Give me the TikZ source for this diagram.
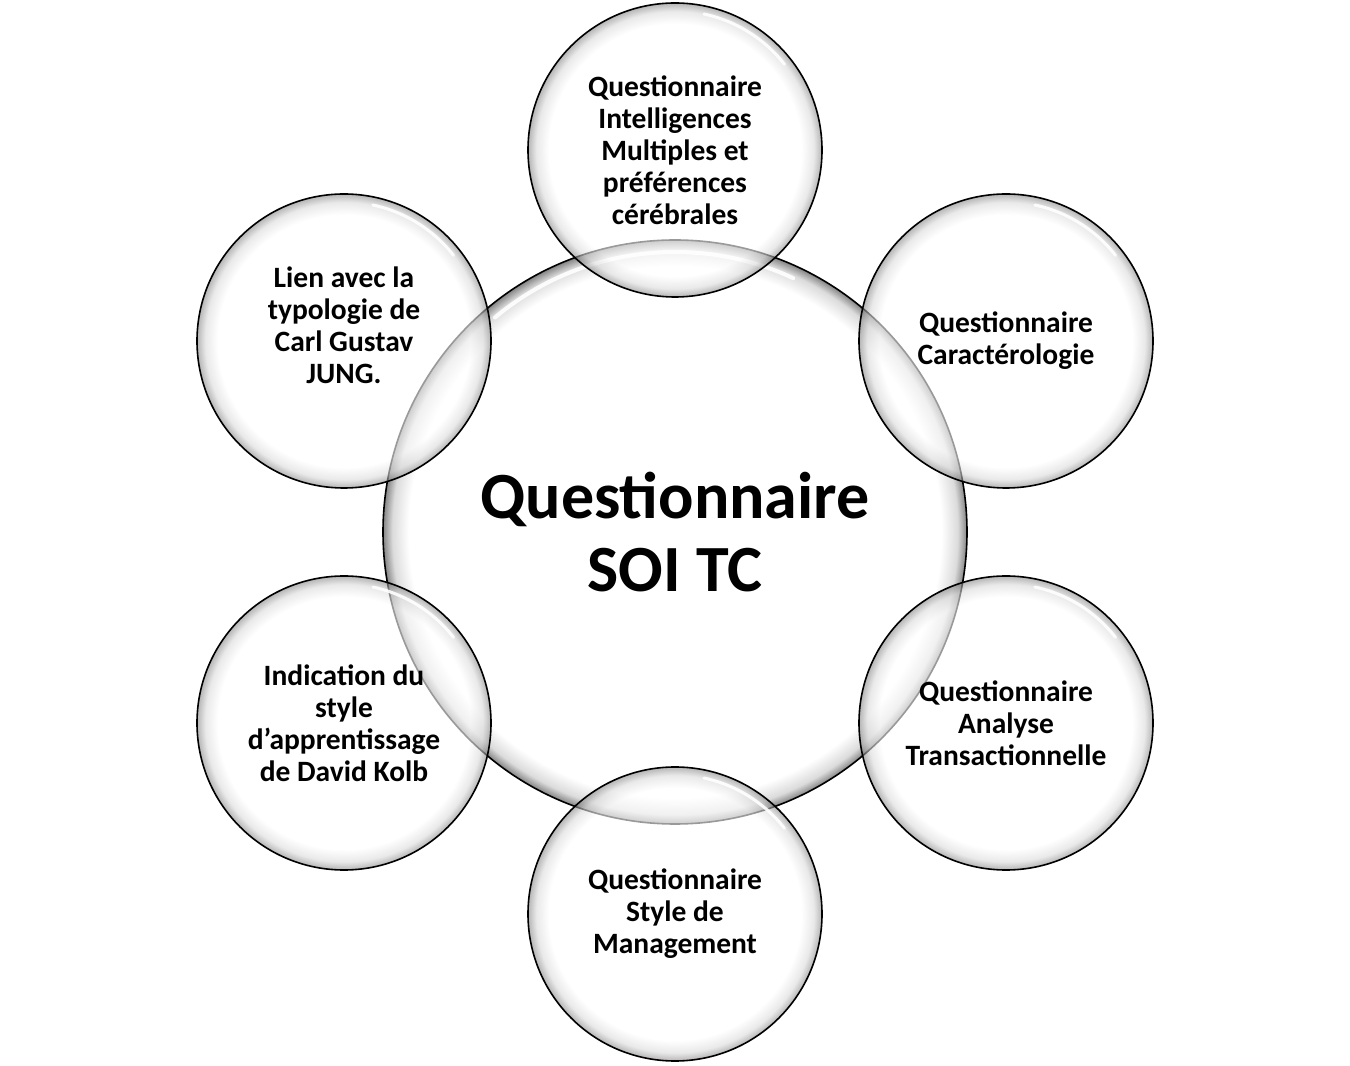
\documentclass[tikz,border=0pt]{standalone}
\usepackage{fontspec}
\setmainfont{Carlito}
\pgfdeclareradialshading{bubble}{\pgfpoint{0bp}{0bp}}{color(0bp)=(white); color(21.5bp)=(white); color(23.6bp)=(black!14); color(25bp)=(black!48); color(50bp)=(black!48)}
\pgfdeclareradialshading{bigbubble}{\pgfpoint{0bp}{0bp}}{color(0bp)=(white); color(22.8bp)=(white); color(24.2bp)=(black!14); color(25bp)=(black!48); color(50bp)=(black!48)}
\tikzset{
  bubble/.style={circle, draw=black, line width=1.6pt, shade, inner sep=0pt},
  sat/.style={bubble, shading=bubble, minimum size=294pt, fill opacity=0.6, draw opacity=1},
  big/.style={bubble, shading=bigbubble, minimum size=584pt},
  lbl/.style={align=center, font=\bfseries\fontsize{29.5}{32}\selectfont, text=black},
  biglbl/.style={align=center, font=\bfseries\fontsize{66}{73}\selectfont, text=black},
  glint/.style={white, line width=3pt, opacity=0.9, line cap=round}
}
\begin{document}
\begin{tikzpicture}[x=1pt,y=1pt]
\useasboundingbox[fill=white] (0,0) rectangle (1350,1066);
% central bubble
\node[big] (c) at (675,534) {};
\draw[glint, line width=4pt] (c.center) ++(130:280) arc[start angle=130, end angle=65, radius=280];
% satellites
\node[sat] (t)  at (675,916) {};
\node[sat] (ur) at (1006,725) {};
\node[sat] (lr) at (1006,343) {};
\node[sat] (b)  at (675,152) {};
\node[sat] (ll) at (344,343) {};
\node[sat] (ul) at (344,725) {};
\foreach \n in {t,ur,lr,b,ll,ul}{
  \draw[glint] (\n.center) ++(78:139) arc[start angle=78, end angle=38, radius=139];
}
% labels
\node[biglbl] (tc)  at (675,534) {Questionnaire\\SOI TC};
\node[lbl] (tt)  at (675,916) {Questionnaire\\Intelligences\\Multiples et\\préférences\\cérébrales};
\node[lbl] (tur) at (1006,725) {Questionnaire\\Caractérologie};
\node[lbl] (tlr) at (1006,343) {Questionnaire\\Analyse\\Transactionnelle};
\node[lbl] (tb)  at (675,152) {Questionnaire\\Style de\\Management};
\node[lbl] (tll) at (344,343) {Indication du\\style\\d’apprentissage\\de David Kolb};
\node[lbl] (tul) at (344,741) {Lien avec la\\typologie de\\Carl Gustav\\JUNG.};
\end{tikzpicture}
\end{document}
